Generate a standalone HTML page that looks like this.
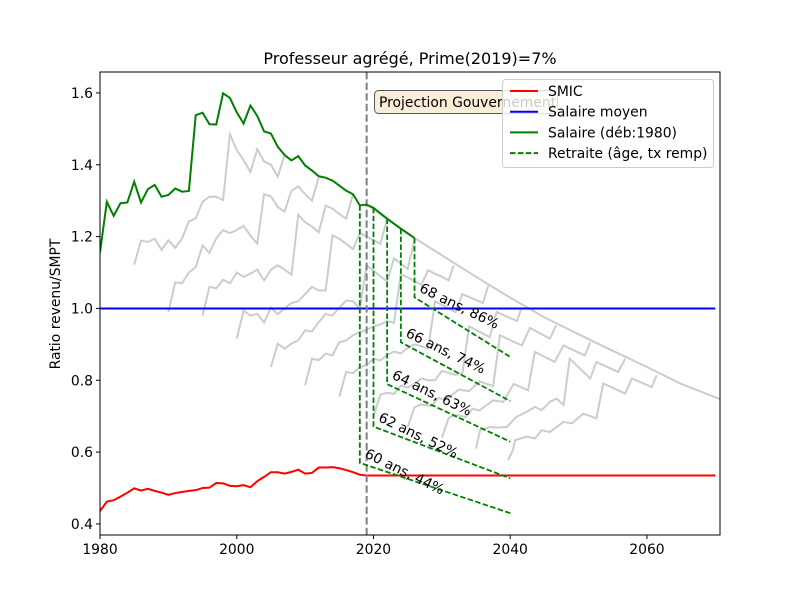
<!DOCTYPE html>
<html><head><meta charset="utf-8">
<style>
html,body{margin:0;padding:0;background:#fff;}
svg{display:block;font-family:"DejaVu Sans","Liberation Sans",sans-serif;}
</style></head>
<body>
<svg id="chart" width="800" height="600" viewBox="0 0 800 600" xmlns="http://www.w3.org/2000/svg">
<rect x="0" y="0" width="800" height="600" fill="#fff"/>
<text x="410" y="64" font-size="16" text-anchor="middle" fill="#000">Professeur agrégé, Prime(2019)=7%</text>
<g id="plot"></g>
</svg>
<script>
const xTicks=[1980,2000,2020,2040,2060];
const yTicks=[0.4,0.6,0.8,1.0,1.2,1.4,1.6];
const yTickLabels=["0.4","0.6","0.8","1.0","1.2","1.4","1.6"];
const greenYears=[1980,1981,1982,1983,1984,1985,1986,1987,1988,1989,1990,1991,1992,1993,1994,1995,1996,1997,1998,1999,2000,2001,2002,2003,2004,2005,2006,2007,2008,2009,2010,2011,2012,2013,2014,2015,2016,2017,2018,2019,2020,2021,2022,2023,2024,2025,2026];
const greenValues=[1.156,1.297,1.258,1.293,1.295,1.353,1.295,1.332,1.344,1.311,1.316,1.334,1.325,1.327,1.538,1.545,1.513,1.512,1.599,1.586,1.546,1.515,1.565,1.536,1.493,1.487,1.450,1.427,1.412,1.424,1.398,1.384,1.368,1.364,1.356,1.342,1.328,1.318,1.287,1.289,1.28,1.265,1.25,1.236,1.222,1.209,1.196];
const smicYears=[1980,1981,1982,1983,1984,1985,1986,1987,1988,1989,1990,1991,1992,1993,1994,1995,1996,1997,1998,1999,2000,2001,2002,2003,2004,2005,2006,2007,2008,2009,2010,2011,2012,2013,2014,2015,2016,2017,2018,2019,2070];
const smicValues=[0.436,0.462,0.466,0.476,0.487,0.499,0.493,0.498,0.492,0.487,0.481,0.486,0.489,0.492,0.494,0.500,0.501,0.514,0.513,0.506,0.505,0.508,0.502,0.519,0.531,0.544,0.544,0.540,0.545,0.551,0.540,0.542,0.557,0.557,0.558,0.555,0.550,0.544,0.537,0.535,0.535];
const meanYears=[1980,2070];
const meanValues=[1.0,1.0];
const envelopeYears=[2019,2026,2030,2035,2040,2045,2050,2055,2060,2065,2071];
const envelopeValues=[1.289,1.196,1.148,1.088,1.03,0.975,0.928,0.882,0.837,0.79,0.745];
const cohortYears=[
 [1985,1986,1987,1988,1989,1990,1991,1992,1993,1994,1995,1996,1997,1998,1999,2000,2001,2002,2003,2004,2005,2006,2007],
 [1990,1991,1992,1993,1994,1995,1996,1997,1998,1999,2000,2001,2002,2003,2004,2005,2006,2007,2008,2009,2010,2011,2012],
 [1995,1996,1997,1998,1999,2000,2001,2002,2003,2004,2005,2006,2007,2008,2009,2010,2011,2012,2013,2014,2015,2016,2017],
 [2000,2001,2002,2003,2004,2005,2006,2007,2008,2009,2010,2011,2012,2013,2014,2015,2016,2017,2018,2019,2020,2021,2022],
 [2005,2006,2007,2008,2009,2010,2011,2012,2013,2014,2015,2016,2017,2018,2019,2020,2021,2022,2023,2024,2025,2026],
 [2010,2011,2012,2013,2014,2015,2016,2017,2018,2019,2020,2021,2022,2023,2024,2025,2026,2027,2028,2029,2030,2031,2031.7],
 [2015,2016,2017,2018,2019,2020,2021,2022,2023,2024,2025,2026,2027,2028,2029,2032,2033,2036,2036.8],
 [2020,2021,2022,2023,2024,2025,2026,2027,2028,2029,2030,2031,2032,2033,2034,2037,2038,2041,2041.6],
 [2025,2026,2027,2028.5,2029.5,2030.5,2032.5,2034,2035.5,2037.5,2038.5,2041.7,2042.9,2045.8,2046.7],
 [2030,2031,2032,2033.5,2034.5,2035.5,2037.5,2039,2040.5,2042.6,2043.6,2046.5,2047.8,2050.9,2051.7],
 [2035,2035.6,2037,2038,2039.5,2040.9,2042.4,2043.6,2044.6,2045.8,2046.8,2047.8,2048.7,2051.7,2052.6,2055.8,2056.8],
 [2039.7,2040.4,2040.7,2042.4,2043.6,2044.6,2045.8,2047.8,2049,2050.7,2052.6,2053.6,2056.8,2057.8,2060.7,2061.4]
];
const cohortValues=[
 [1.122,1.189,1.185,1.194,1.163,1.19,1.169,1.195,1.242,1.251,1.297,1.311,1.311,1.302,1.485,1.441,1.413,1.38,1.443,1.409,1.40,1.367,1.427],
 [0.99,1.073,1.07,1.10,1.115,1.175,1.155,1.195,1.218,1.21,1.218,1.23,1.203,1.18,1.318,1.312,1.282,1.27,1.327,1.34,1.318,1.30,1.365],
 [0.98,1.06,1.056,1.08,1.07,1.10,1.088,1.097,1.108,1.078,1.108,1.12,1.108,1.094,1.261,1.24,1.228,1.212,1.286,1.278,1.263,1.25,1.318],
 [0.916,0.994,0.98,0.985,0.961,1.002,0.984,1.0,1.015,1.02,1.04,1.06,1.05,1.05,1.203,1.194,1.18,1.165,1.21,1.20,1.19,1.18,1.25],
 [0.837,0.902,0.888,0.902,0.911,0.939,0.936,0.962,0.985,0.98,1.002,1.022,1.02,1.0,1.12,1.105,1.09,1.075,1.14,1.125,1.11,1.19],
 [0.786,0.86,0.856,0.874,0.869,0.906,0.911,0.925,0.934,0.94,0.95,0.955,0.965,0.96,1.096,1.086,1.076,1.066,1.106,1.097,1.088,1.078,1.119],
 [0.754,0.823,0.82,0.837,0.842,0.86,0.855,0.87,0.88,0.875,0.89,0.9,0.895,0.888,1.02,0.99,1.04,1.015,1.064],
 [0.70,0.76,0.765,0.762,0.785,0.78,0.79,0.805,0.80,0.80,0.826,0.82,0.815,0.82,0.95,0.92,0.99,0.965,0.999],
 [0.67,0.725,0.733,0.728,0.751,0.746,0.774,0.77,0.797,0.784,0.925,0.897,0.946,0.916,0.953],
 [0.64,0.695,0.703,0.698,0.721,0.716,0.744,0.74,0.79,0.772,0.879,0.851,0.897,0.869,0.906],
 [0.61,0.661,0.67,0.668,0.67,0.698,0.712,0.726,0.717,0.74,0.749,0.731,0.86,0.805,0.851,0.823,0.86],
 [0.578,0.606,0.633,0.643,0.638,0.661,0.656,0.684,0.68,0.707,0.694,0.791,0.763,0.805,0.781,0.814]
];
const retireYears=[2018,2020,2022,2024,2026];
const retireSalary=[1.287,1.28,1.25,1.222,1.196];
const retirePension=[0.570,0.671,0.789,0.906,1.031];
const retireEnd=[0.43,0.527,0.629,0.742,0.865];
const retireEndYear=2040;
const retireLabels=["60 ans, 44%","62 ans, 52%","64 ans, 63%","66 ans, 74%","68 ans, 86%"];
const projectionYear=2019;

const NS="http://www.w3.org/2000/svg";
const L=100,R=720,T=72,B=535;
const xMin=1980,xMax=2070.68,yMin=0.3692,yMax=1.6583;
function X(v){return L+(v-xMin)/(xMax-xMin)*(R-L);}
function Y(v){return B-(v-yMin)/(yMax-yMin)*(B-T);}
const plot=document.getElementById('plot');
function mk(tag,attrs,parent){const e=document.createElementNS(NS,tag);for(const k in attrs)e.setAttribute(k,attrs[k]);(parent||plot).appendChild(e);return e;}
function pts(xs,ys){return xs.map((x,i)=>X(x).toFixed(2)+','+Y(ys[i]).toFixed(2)).join(' ');}

const clip=mk('clipPath',{id:'clipArea'});
mk('rect',{x:L,y:T,width:R-L,height:B-T},clip);
const g=mk('g',{'clip-path':'url(#clipArea)'});

for(let i=0;i<cohortYears.length;i++){
  const p=mk('polyline',{points:pts(cohortYears[i],cohortValues[i]),fill:'none',stroke:'#cccccc','stroke-width':2},g);
  
  
}
const env=mk('polyline',{points:pts(envelopeYears,envelopeValues),fill:'none',stroke:'#cccccc','stroke-width':2},g);



const blue=mk('polyline',{points:pts(meanYears,meanValues),fill:'none',stroke:'#0000ff','stroke-width':2},g);


const red=mk('polyline',{points:pts(smicYears,smicValues),fill:'none',stroke:'#ff0000','stroke-width':2},g);



const vline=mk('line',{x1:X(projectionYear),x2:X(projectionYear),y1:T,y2:B,stroke:'#808080','stroke-width':2,'stroke-dasharray':'7.4,3.2'},g);



const green=mk('polyline',{points:pts(greenYears,greenValues),fill:'none',stroke:'#008000','stroke-width':2},g);



for(let i=0;i<retireYears.length;i++){
  const p=mk('polyline',{points:pts([retireYears[i],retireYears[i],retireEndYear],[retireSalary[i],retirePension[i],retireEnd[i]]),fill:'none',stroke:'#008000','stroke-width':1.8,'stroke-dasharray':'5.5,2.4'},g);
  
  
  const t=mk('text',{x:0,y:0,'font-size':13.9,fill:'#000',transform:`translate(${X(retireYears[i])+4},${Y(retirePension[i])-6}) rotate(26)`});
  t.textContent=retireLabels[i];
  
  
}

const ab=mk('rect',{x:374.5,y:90.5,width:183,height:23,rx:4,fill:'#f5deb3','fill-opacity':0.5,stroke:'#555','stroke-width':1});


const at=mk('text',{x:379,y:107,'font-size':13.9,fill:'#000'});
at.textContent='Projection Gouvernement';



const fr=mk('rect',{x:L,y:T,width:R-L,height:B-T,fill:'none',stroke:'#000','stroke-width':1});



for(let i=0;i<xTicks.length;i++){
  const x=X(xTicks[i]);
  const tk=mk('line',{x1:x,x2:x,y1:B,y2:B+4,stroke:'#000','stroke-width':1});
  
  
  const t=mk('text',{x:x,y:B+19,'font-size':13.9,'text-anchor':'middle',fill:'#000'});
  t.textContent=String(xTicks[i]);
  
  
}
for(let i=0;i<yTicks.length;i++){
  const y=Y(yTicks[i]);
  const tk=mk('line',{x1:L-4,x2:L,y1:y,y2:y,stroke:'#000','stroke-width':1});
  
  
  const t=mk('text',{x:L-7,y:y+5,'font-size':13.9,'text-anchor':'end',fill:'#000'});
  t.textContent=yTickLabels[i];
  
  
}
const yl=mk('text',{x:0,y:0,'font-size':13.9,'text-anchor':'middle',fill:'#000',transform:'translate(60,304) rotate(-90)'});
yl.textContent='Ratio revenu/SMPT';



const lg=mk('g',{});


mk('rect',{x:502.5,y:79.5,width:211,height:88,rx:3,fill:'#fff','fill-opacity':0.8,stroke:'#cccccc','stroke-width':1},lg);
const legLabels=['SMIC','Salaire moyen','Salaire (déb:1980)','Retraite (âge, tx remp)'];
const legColors=['#ff0000','#0000ff','#008000','#008000'];
const legDash=['','','','5.5,2.4'];
for(let i=0;i<4;i++){
  const y=91+i*20.7;
  const e=mk('g',{},lg);
  
  
  const a={x1:510,x2:538,y1:y,y2:y,stroke:legColors[i],'stroke-width':2};
  if(legDash[i])a['stroke-dasharray']=legDash[i];
  mk('line',a,e);
  const t=mk('text',{x:548,y:y+5,'font-size':13.9,fill:'#000'},e);
  t.textContent=legLabels[i];
}
</script>
</body></html>
